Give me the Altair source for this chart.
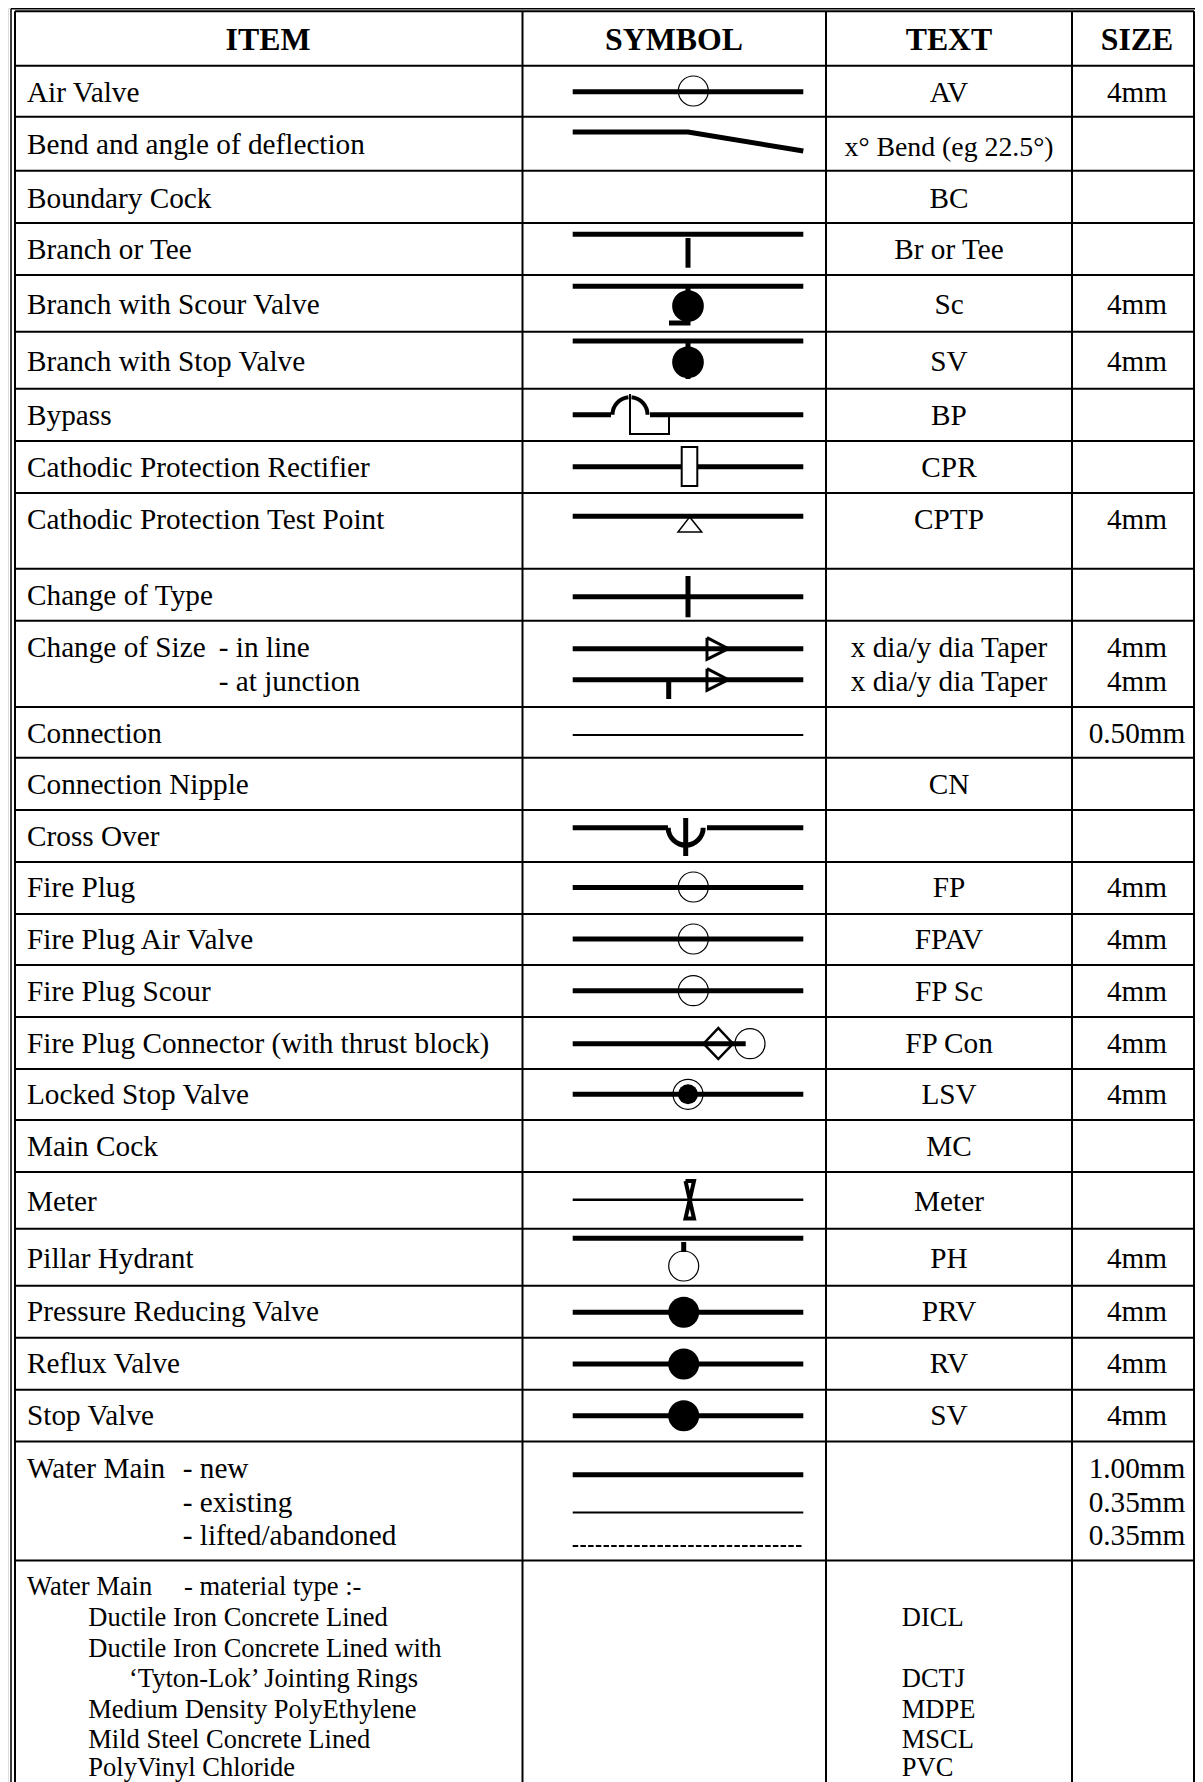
import altair as alt
import pandas as pd

# ---- table grid ----
row_edges = [11.3, 65.7, 116.7, 170.7, 223, 275, 331.7, 388.7, 441, 493, 568.7, 620.7,
             707, 757.7, 810, 862, 914, 965, 1017, 1069, 1120, 1172, 1228.7, 1285.7,
             1337.7, 1389.7, 1441.6, 1560.4]
col_edges = [15, 522.5, 826, 1072, 1194]
frame_left = 11
frame_top = 8.75

# ---- text ----
headers = ["ITEM", "SYMBOL", "TEXT", "SIZE"]
header_x = [268, 674, 949, 1137]
header_y = 50
items = [
    ("Air Valve", 102, "AV", "4mm"),
    ("Bend and angle of deflection", 153.8, "", ""),
    ("Boundary Cock", 207.8, "BC", ""),
    ("Branch or Tee", 259, "Br or Tee", ""),
    ("Branch with Scour Valve", 313.8, "Sc", "4mm"),
    ("Branch with Stop Valve", 370.8, "SV", "4mm"),
    ("Bypass", 424.8, "BP", ""),
    ("Cathodic Protection Rectifier", 476.8, "CPR", ""),
    ("Cathodic Protection Test Point", 528.8, "CPTP", "4mm"),
    ("Change of Type", 605, "", ""),
    ("Change of Size", 656.6, "x dia/y dia Taper", "4mm"),
    ("", 690.7, "x dia/y dia Taper", "4mm"),
    ("Connection", 742.7, "", "0.50mm"),
    ("Connection Nipple", 794, "CN", ""),
    ("Cross Over", 845.7, "", ""),
    ("Fire Plug", 897.4, "FP", "4mm"),
    ("Fire Plug Air Valve", 948.6, "FPAV", "4mm"),
    ("Fire Plug Scour", 1000.7, "FP Sc", "4mm"),
    ("Fire Plug Connector (with thrust block)", 1052.7, "FP Con", "4mm"),
    ("Locked Stop Valve", 1104.4, "LSV", "4mm"),
    ("Main Cock", 1156.4, "MC", ""),
    ("Meter", 1211, "Meter", ""),
    ("Pillar Hydrant", 1267.5, "PH", "4mm"),
    ("Pressure Reducing Valve", 1321, "PRV", "4mm"),
    ("Reflux Valve", 1373.3, "RV", "4mm"),
    ("Stop Valve", 1425, "SV", "4mm"),
    ("Water Main", 1478.4, "", "1.00mm"),
    ("", 1511.8, "", "0.35mm"),
    ("", 1544.8, "", "0.35mm"),
]
indented = [("- in line", 218.7, 656.6), ("- at junction", 218.7, 690.7), ("- new", 182.7, 1478.4),
            ("- existing", 182.7, 1511.8), ("- lifted/abandoned", 182.7, 1544.8)]
bend_text = [("x° Bend (eg 22.5°)", 949, 156)]
material_left = [("Water Main", 27, 1595.3), ("- material type :-", 184, 1595.3),
                 ("Ductile Iron Concrete Lined", 88.3, 1626),
                 ("Ductile Iron Concrete Lined with", 88.3, 1656.7),
                 ("‘Tyton-Lok’ Jointing Rings", 129, 1687),
                 ("Medium Density PolyEthylene", 88.3, 1717.7),
                 ("Mild Steel Concrete Lined", 88.3, 1747.5),
                 ("PolyVinyl Chloride", 88.3, 1776)]
material_code = [("DICL", 1626), ("DCTJ", 1687), ("MDPE", 1717.7), ("MSCL", 1747.5), ("PVC", 1776)]

# ---- symbols: polylines [(width, [(x,y), ...])] ----
A, B = 572.7, 803.3
polylines = [
    (5, [(A, 91.7), (B, 91.7)]),
    (5, [(A, 132), (688, 132), (B, 151)]),
    (5, [(A, 234.3), (B, 234.3)]), (5, [(688, 238), (688, 267.7)]),
    (5, [(A, 286.3), (B, 286.3)]), (5, [(688, 286), (688, 323), (669, 323)]),
    (5, [(A, 341), (B, 341)]), (5, [(688, 341), (688, 379)]),
    (5, [(A, 414.7), (611, 414.7)]), (5, [(650, 414.7), (B, 414.7)]),
    (2, [(630, 394), (630, 434), (669, 434), (669, 415)]),
    (5, [(A, 466.7), (B, 466.7)]),
    (5, [(A, 516.3), (B, 516.3)]),
    (5, [(A, 596.7), (B, 596.7)]), (5, [(688, 576), (688, 617.3)]),
    (5, [(A, 648.7), (B, 648.7)]),
    (3, [(707, 637.7), (728.3, 648.7), (707, 659.3), (707, 637.7)]),
    (5, [(A, 679.7), (B, 679.7)]),
    (3, [(707, 668.7), (728.3, 679.7), (707, 690.3), (707, 668.7)]),
    (5, [(668.7, 680), (668.7, 699)]),
    (2, [(A, 735), (B, 735)]),
    (5, [(A, 827.7), (668, 827.7)]), (5, [(707, 827.7), (B, 827.7)]),
    (5, [(685.7, 818), (685.7, 856)]),
    (5, [(A, 887.4), (B, 887.4)]),
    (5, [(A, 939), (B, 939)]),
    (5, [(A, 990.7), (B, 990.7)]),
    (5, [(A, 1043.7), (745.7, 1043.7)]),
    (5, [(A, 1094.3), (B, 1094.3)]),
    (2.5, [(A, 1199.7), (B, 1199.7)]),
    (4, [(685.5, 1181), (694, 1218.5), (685.5, 1218.5), (694, 1181), (685.5, 1181)]),
    (5, [(A, 1238.3), (B, 1238.3)]), (5, [(683.7, 1242), (683.7, 1252)]),
    (5, [(A, 1312.3), (B, 1312.3)]),
    (5, [(A, 1364), (B, 1364)]),
    (5, [(A, 1415.7), (B, 1415.7)]),
    (5, [(A, 1474.7), (B, 1474.7)]),
    (2, [(A, 1512.4), (B, 1512.4)]),
]
dashed = [(A, 1546.1), (802, 1546.1)]
rectifier_box = [(681.7, 447, 697.3, 486)]
closed_shapes = [
    (2, [(681.7, 447), (697.3, 447), (697.3, 486), (681.7, 486), (681.7, 447)]),
    (1.5, [(689.7, 517), (701.7, 532), (678, 532), (689.7, 517)]),
    (2.5, [(718.3, 1028), (733, 1043.7), (718.3, 1059), (703.6, 1043.7), (718.3, 1028)]),
]
# circles: x, y, diameter, filled
circles = [
    (693.3, 91, 30, False), (688, 306, 31.7, True), (688, 362.3, 31.7, True),
    (693.3, 887, 30, False), (693.3, 939, 30, False), (693.3, 990.7, 30, False),
    (750, 1043.7, 30, False), (688, 1094.3, 20, True), (688, 1094.3, 30, False),
    (683.7, 1266, 30, False), (683.7, 1312.3, 31, True), (683.7, 1364, 31, True),
    (683.7, 1415.7, 31, True),
]
# arcs: x, y, radius, thickness, start deg, end deg
arcs = [(630, 414.7, 17.5, 4, 270, 355), (630, 414.7, 17.5, 4, 5, 90),
        (685.7, 827.7, 17.5, 5, 90, 270)]

W, H = 1187, 1774
X = alt.Scale(domain=[8, 8 + W], range=[0, W])
Y = alt.Scale(domain=[8, 8 + H], range=[0, H])
x_ = lambda f="x": alt.X(f"{f}:Q", scale=X, axis=None)
y_ = lambda f="y": alt.Y(f"{f}:Q", scale=Y, axis=None)

layers = []

# grid
grid = []
for e in row_edges:
    grid.append(dict(x=col_edges[0], x2=col_edges[-1], y=e, y2=e))
for e in col_edges:
    grid.append(dict(x=e, x2=e, y=row_edges[0], y2=1782))
layers.append(alt.Chart(pd.DataFrame(grid)).mark_rule(color="black", strokeWidth=2).encode(
    x=x_(), x2="x2:Q", y=y_(), y2="y2:Q"))
frame = [dict(x=frame_left, x2=1195, y=frame_top, y2=frame_top),
         dict(x=frame_left, x2=frame_left, y=frame_top, y2=1782)]
layers.append(alt.Chart(pd.DataFrame(frame)).mark_rule(color="black", strokeWidth=1.5).encode(
    x=x_(), x2="x2:Q", y=y_(), y2="y2:Q"))


def line_df(lines):
    rows = []
    for i, (w, pts) in enumerate(lines):
        for j, (px, py) in enumerate(pts):
            rows.append(dict(id=i, o=j, x=px, y=py, w=w))
    return pd.DataFrame(rows)


layers.append(alt.Chart(line_df(polylines)).mark_line(color="black", strokeCap="butt", strokeJoin="miter").encode(
    x=x_(), y=y_(), detail="id:N", order="o:Q",
    strokeWidth=alt.StrokeWidth("w:Q", scale=None)))
layers.append(alt.Chart(line_df([(2, dashed)])).mark_line(color="black", strokeDash=[5.5, 2.2], strokeWidth=2).encode(
    x=x_(), y=y_(), detail="id:N", order="o:Q"))

# white interior of the rectifier box, over the main line
box = pd.DataFrame(rectifier_box, columns=["x", "y", "x2", "y2"])
layers.append(alt.Chart(box).mark_rect(color="white").encode(x=x_(), x2="x2:Q", y=y_(), y2="y2:Q"))
layers.append(alt.Chart(line_df(closed_shapes)).mark_line(color="black", strokeCap="square", strokeJoin="miter").encode(
    x=x_(), y=y_(), detail="id:N", order="o:Q",
    strokeWidth=alt.StrokeWidth("w:Q", scale=None)))

# circles
cdf = pd.DataFrame([dict(x=a, y=b, s=d * d, f=f) for a, b, d, f in circles])
layers.append(alt.Chart(cdf[cdf.f]).mark_point(shape="circle", filled=True, color="black", opacity=1).encode(
    x=x_(), y=y_(), size=alt.Size("s:Q", scale=None)))
layers.append(alt.Chart(cdf[~cdf.f]).mark_point(shape="circle", filled=False, color="black", opacity=1, strokeWidth=1.2).encode(
    x=x_(), y=y_(), size=alt.Size("s:Q", scale=None)))

# arcs
adf = pd.DataFrame([dict(x=a, y=b, r=r - t / 2, r2=r + t / 2, t=s * 3.14159265 / 180, t2=e * 3.14159265 / 180)
                    for a, b, r, t, s, e in arcs])
layers.append(alt.Chart(adf).mark_arc(color="black").encode(
    x=x_(), y=y_(),
    radius=alt.Radius("r:Q", scale=None), radius2="r2:Q",
    theta=alt.Theta("t:Q", scale=None), theta2="t2:Q"))

# text
FONT = "Liberation Serif"
FS = 29.25


def text_layer(rows, size, align, bold=False):
    df = pd.DataFrame(rows, columns=["t", "x", "y"])
    return alt.Chart(df).mark_text(font=FONT, fontSize=size, align=align, baseline="alphabetic",
                                   color="black", fontWeight="bold" if bold else "normal").encode(
        x=x_(), y=y_(), text="t:N")


layers.append(text_layer([(h, x, header_y) for h, x in zip(headers, header_x)], 31.8, "center", True))
layers.append(text_layer([(a, 27, y) for a, y, _, _ in items if a] + indented, FS, "left"))
layers.append(text_layer([(c, 949, y) for _, y, c, _ in items if c], FS, "center"))
layers.append(text_layer(bend_text, 27.8, "center"))
layers.append(text_layer([(s, 1137, y) for _, y, _, s in items if s], FS, "center"))
layers.append(text_layer(material_left, 26.5, "left"))
layers.append(text_layer([(c, 901.8, y) for c, y in material_code], 26.5, "left"))

chart = alt.layer(*layers).properties(width=W, height=H, padding=0, autosize="none").configure_view(stroke=None, clip=False).configure(background="white")
chart.save("out.html", embed_options={"renderer": "svg", "actions": False})
